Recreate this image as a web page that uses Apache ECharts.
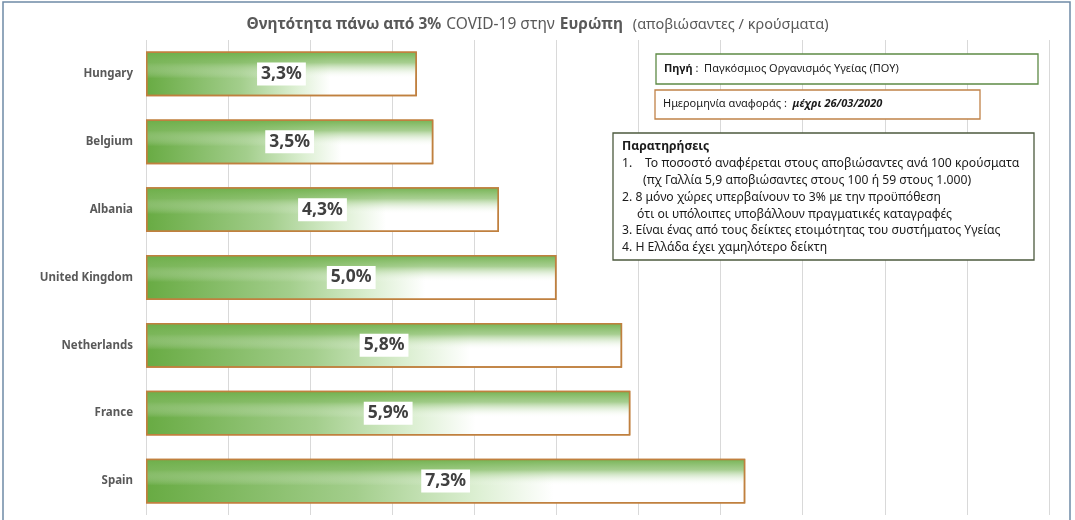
<!DOCTYPE html>
<html>
<head>
<meta charset="utf-8">
<script src="https://cdn.jsdelivr.net/npm/echarts@6/dist/echarts.min.js"></script>
<style>
  html, body { margin: 0; padding: 0; background: #fff; }
  #chart { width: 1075px; height: 520px; }
</style>
</head>
<body>
<div id="chart"></div>
<script>
// data
const countries = ["Hungary", "Belgium", "Albania", "United Kingdom", "Netherlands", "France", "Spain"];
const deathRate = [3.3, 3.5, 4.3, 5.0, 5.8, 5.9, 7.3];
const axisMin = 0;
const axisMax = 11;

const noteLines = [
  { x: 622, text: "{b|Παρατηρήσεις}" },
  { x: 622, text: "1.    Το ποσοστό αναφέρεται στους αποβιώσαντες ανά 100 κρούσματα" },
  { x: 643, text: "(πχ Γαλλία 5,9 αποβιώσαντες στους 100 ή 59 στους 1.000)" },
  { x: 622, text: "2. 8 μόνο χώρες υπερβαίνουν το 3% με την προϋπόθεση" },
  { x: 637, text: "ότι οι υπόλοιπες υποβάλλουν πραγματικές καταγραφές" },
  { x: 622, text: "3. Είναι ένας από τους δείκτες ετοιμότητας του συστήματος Υγείας" },
  { x: 622, text: "4. Η Ελλάδα έχει χαμηλότερο δείκτη" }
];

const FONT = "Noto Sans";
const chart = echarts.init(document.getElementById("chart"));

const graphics = [
  // outer frame
  { type: "rect", shape: { x: 3, y: 2, width: 1067, height: 530 }, style: { fill: "none", stroke: "#6f8aa6", lineWidth: 1.5 }, z: 100 },
  // source box
  { type: "rect", shape: { x: 656, y: 54, width: 382, height: 30 }, style: { fill: "#fff", stroke: "#5e8a45", lineWidth: 1.3 }, z: 50 },
  { type: "text", x: 664, y: 69, z: 51, style: {
      text: "{b|Πηγή} :  Παγκόσμιος Οργανισμός Υγείας (ΠΟΥ)", verticalAlign: "middle",
      font: "11px " + FONT, fill: "#1a1a1a",
      rich: { b: { fontWeight: "bold", fontSize: 11, fontFamily: FONT, fill: "#1a1a1a" } } } },
  // date box
  { type: "rect", shape: { x: 655, y: 90, width: 325, height: 29 }, style: { fill: "#fff", stroke: "#c08248", lineWidth: 1.3 }, z: 50 },
  { type: "text", x: 663, y: 104, z: 51, style: {
      text: "Ημερομηνία αναφοράς :  {b|μέχρι 26/03/2020}", verticalAlign: "middle",
      font: "11px " + FONT, fill: "#1a1a1a",
      rich: { b: { fontWeight: "bold", fontStyle: "italic", fontSize: 11, fontFamily: FONT, fill: "#1a1a1a" } } } },
  // notes box
  { type: "rect", shape: { x: 613, y: 133, width: 421, height: 127 }, style: { fill: "#fff", stroke: "#4c5a3e", lineWidth: 1.3 }, z: 50 }
];
noteLines.forEach((ln, i) => {
  graphics.push({ type: "text", x: ln.x, y: 147 + i * 16.8, z: 51, style: {
    text: ln.text, verticalAlign: "middle", font: "12.2px " + FONT, fill: "#1a1a1a",
    rich: { b: { fontWeight: "bold", fontSize: 12.2, fontFamily: FONT, fill: "#1a1a1a" } } } });
});

chart.setOption({
  animation: false,
  title: {
    text: "{b|Θνητότητα πάνω από 3%} {n|COVID-19 στην} {b|Ευρώπη}  {s|(αποβιώσαντες / κρούσματα)}",
    left: "center",
    top: 11,
    textStyle: {
      rich: {
        b: { fontFamily: FONT, fontSize: 15.5, fontWeight: "bold", color: "#595959" },
        n: { fontFamily: FONT, fontSize: 15.5, fontWeight: "normal", color: "#595959" },
        s: { fontFamily: FONT, fontSize: 14.5, fontWeight: "normal", color: "#595959" }
      }
    }
  },
  grid: { left: 146, right: 26, top: 40, bottom: 5, containLabel: false },
  xAxis: {
    type: "value",
    min: axisMin,
    max: axisMax,
    interval: 1,
    axisLabel: { show: false },
    axisLine: { show: false },
    axisTick: { show: false },
    splitLine: { lineStyle: { color: "#d9d9d9", width: 1 } }
  },
  yAxis: {
    type: "category",
    inverse: true,
    data: countries,
    axisLine: { show: false },
    axisTick: { show: false },
    axisLabel: { fontFamily: FONT, fontSize: 11.5, fontWeight: "bold", color: "#595959", margin: 13 }
  },
  series: [
    {
      type: "bar",
      data: deathRate,
      barWidth: "66%",
      itemStyle: {
        color: new echarts.graphic.LinearGradient(0, 0, 1, 0, [
          { offset: 0, color: "#68ab43" },
          { offset: 0.35, color: "#a3ce8c" },
          { offset: 0.55, color: "#dcefd2" },
          { offset: 0.68, color: "#ffffff" },
          { offset: 1, color: "#ffffff" }
        ]),
        borderColor: "#c0803f",
        borderWidth: 1.5
      },
      z: 2
    },
    {
      type: "bar",
      data: deathRate,
      barWidth: "66%",
      barGap: "-100%",
      silent: true,
      itemStyle: {
        color: new echarts.graphic.LinearGradient(0, 0, 0, 1, [
          { offset: 0, color: "rgba(108,174,72,0.95)" },
          { offset: 0.25, color: "rgba(130,186,98,0.7)" },
          { offset: 0.6, color: "rgba(255,255,255,0)" },
          { offset: 1, color: "rgba(255,255,255,0)" }
        ]),
        borderColor: "#c0803f",
        borderWidth: 1.5
      },
      label: {
        show: true,
        position: "inside",
        formatter: p => p.value.toFixed(1).replace(".", ",") + "%",
        fontFamily: FONT,
        fontSize: 17.5,
        fontWeight: "bold",
        color: "#404040",
        backgroundColor: "#ffffff",
        padding: [3, 4, 2, 4]
      },
      z: 3
    }
  ],
  graphic: graphics
});
</script>
</body>
</html>
